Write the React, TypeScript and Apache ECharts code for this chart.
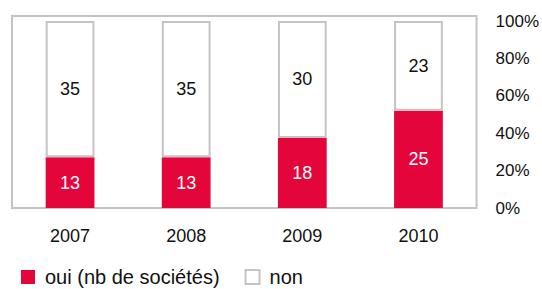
import React, { useEffect, useRef } from "react";
import * as echarts from "echarts";

const years = ["2007", "2008", "2009", "2010"];
const oui = [13, 13, 18, 25];
const non = [35, 35, 30, 23];
const yTicks = [0, 20, 40, 60, 80, 100];

const RED = "#e4063b";
const GRAY = "#c4c4c4";
const FONT = "Liberation Sans, Arial, sans-serif";

export default function App() {
  const ref = useRef<HTMLDivElement>(null);
  useEffect(() => {
    if (!ref.current) return;
    const chart = echarts.init(ref.current, null, { renderer: "svg" });
    const totals = oui.map((v, i) => v + non[i]);
    const ouiPct = oui.map((v, i) => (v / totals[i]) * 100);
    const nonPct = non.map((v, i) => (v / totals[i]) * 100);
    chart.setOption({
      animation: false,
      textStyle: { fontFamily: FONT },
      grid: {
        left: 12,
        right: 62,
        top: 16,
        bottom: 81,
        show: true,
        borderColor: GRAY,
        borderWidth: 2,
        backgroundColor: "transparent",
      },
      legend: {
        left: 21,
        top: 267,
        padding: 0,
        itemWidth: 14,
        itemHeight: 14,
        itemGap: 25,
        icon: "rect",
        textStyle: {
          fontSize: 20,
          lineHeight: 14,
          color: "#111",
          fontFamily: FONT,
          padding: [0, 0, 0, 5],
        },
        data: [
          { name: "oui (nb de sociétés)", itemStyle: { color: RED, borderWidth: 0 } },
          { name: "non", itemStyle: { color: "#fff", borderColor: GRAY, borderWidth: 2 } },
        ],
      },
      xAxis: {
        type: "category",
        data: years,
        axisLine: { show: false },
        axisTick: { show: false },
        axisLabel: { color: "#111", fontSize: 18, margin: 19, fontFamily: FONT },
      },
      yAxis: {
        type: "value",
        position: "right",
        min: 0,
        max: 102.7,
        interval: 20,
        axisLine: { show: false },
        axisTick: { show: false },
        splitLine: { show: false },
        axisLabel: {
          color: "#111",
          fontSize: 17,
          margin: 19,
          fontFamily: FONT,
          formatter: (v: number) => (yTicks.includes(Math.round(v)) && Math.abs(v - Math.round(v)) < 1e-6 ? v + "%" : ""),
        },
      },
      series: [
        {
          name: "oui (nb de sociétés)",
          type: "bar",
          stack: "s",
          barWidth: "42%",
          data: ouiPct,
          itemStyle: { color: RED },
          label: {
            show: true,
            position: "inside",
            color: "#fff",
            fontSize: 18,
            fontFamily: FONT,
            formatter: (p: any) => String(oui[p.dataIndex]),
          },
        },
        {
          name: "non",
          type: "bar",
          stack: "s",
          barWidth: "42%",
          data: nonPct,
          itemStyle: { color: "#fff", borderColor: GRAY, borderWidth: 2 },
          label: {
            show: true,
            position: "inside",
            color: "#111",
            fontSize: 18,
            fontFamily: FONT,
            formatter: (p: any) => String(non[p.dataIndex]),
          },
        },
      ],
    });
    return () => chart.dispose();
  }, []);
  return <div ref={ref} style={{ position: "absolute", left: 0, top: 0, width: 542, height: 289 }} />;
}
